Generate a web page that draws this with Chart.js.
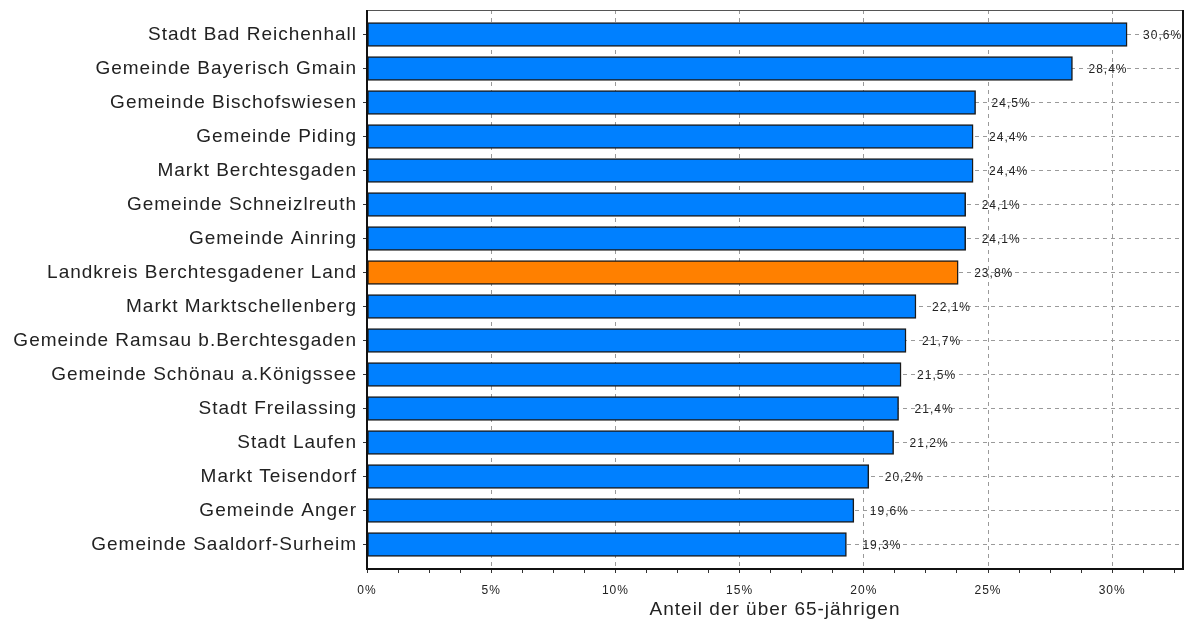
<!DOCTYPE html>
<html lang="de">
<head>
<meta charset="utf-8">
<title>Anteil der über 65-jährigen</title>
<script src="https://cdn.jsdelivr.net/npm/chart.js@4/dist/chart.umd.min.js"></script>
<style>
  html, body { margin: 0; padding: 0; background: #fff; }
  #wrap { width: 1191px; height: 622px; }
</style>
</head>
<body>
<div id="wrap"><canvas id="chart"></canvas></div>
<script>
const gemeinden = [
  "Stadt Bad Reichenhall",
  "Gemeinde Bayerisch Gmain",
  "Gemeinde Bischofswiesen",
  "Gemeinde Piding",
  "Markt Berchtesgaden",
  "Gemeinde Schneizlreuth",
  "Gemeinde Ainring",
  "Landkreis Berchtesgadener Land",
  "Markt Marktschellenberg",
  "Gemeinde Ramsau b.Berchtesgaden",
  "Gemeinde Schönau a.Königssee",
  "Stadt Freilassing",
  "Stadt Laufen",
  "Markt Teisendorf",
  "Gemeinde Anger",
  "Gemeinde Saaldorf-Surheim"
];
const anteil = [30.6, 28.4, 24.5, 24.4, 24.4, 24.1, 24.1, 23.8, 22.1, 21.7, 21.5, 21.4, 21.2, 20.2, 19.6, 19.3];
const landkreis = "Landkreis Berchtesgadener Land";
const xTicks = [0, 5, 10, 15, 20, 25, 30];

const BLUE = "#0080ff";
const ORANGE = "#ff8000";
const FONT = "'Liberation Sans', Arial, sans-serif";

// wider letter spacing for all text on the canvas
const spacing = {
  id: "spacing",
  beforeDraw(chart) { chart.ctx.letterSpacing = "1px"; }
};

// value labels right of each bar, e.g. "30,6%"
const valueLabels = {
  id: "valueLabels",
  afterDatasetsDraw(chart) {
    const ctx = chart.ctx;
    const meta = chart.getDatasetMeta(0);
    ctx.save();
    ctx.font = "12px " + FONT;
    ctx.fillStyle = "#222";
    ctx.textAlign = "left";
    ctx.textBaseline = "middle";
    meta.data.forEach((bar, i) => {
      const txt = anteil[i].toFixed(1).replace(".", ",") + "%";
      ctx.fillText(txt, bar.x + 16, bar.y + 1);
    });
    ctx.restore();
  }
};

// box around the plot area
const frame = {
  id: "frame",
  afterDraw(chart) {
    const { left, top, right, bottom } = chart.chartArea;
    const ctx = chart.ctx;
    ctx.save();
    ctx.strokeStyle = "#555";
    ctx.lineWidth = 1;
    ctx.beginPath();
    ctx.moveTo(left, top + 0.5);
    ctx.lineTo(right, top + 0.5);
    ctx.stroke();
    ctx.strokeStyle = "#111";
    ctx.lineWidth = 2;
    ctx.beginPath();
    ctx.moveTo(left, top);
    ctx.lineTo(left, bottom);
    ctx.lineTo(right, bottom);
    ctx.lineTo(right, top);
    ctx.stroke();
    ctx.restore();
  }
};

new Chart(document.getElementById("chart"), {
  type: "bar",
  data: {
    datasets: [{
      data: anteil.map((v, i) => ({ x: v, y: i })),
      backgroundColor: ctx => gemeinden[ctx.dataIndex] === landkreis ? ORANGE : BLUE,
      borderColor: "#1a1a1a",
      borderWidth: 1.5,
      borderSkipped: false,
      barThickness: 24
    }]
  },
  options: {
    indexAxis: "y",
    responsive: true,
    maintainAspectRatio: false,
    animation: false,
    events: [],
    layout: { padding: { top: 10, right: 8, left: 0, bottom: 0 } },
    plugins: {
      legend: { display: false },
      tooltip: { enabled: false }
    },
    scales: {
      x: {
        type: "linear",
        min: 0,
        max: 32.85,
        afterFit(scale) { scale.height = 53; },
        border: { display: false, dash: [4, 4] },
        grid: {
          color: c => (c.tick && c.tick.value > 0 && xTicks.includes(c.tick.value)) ? "#9a9a9a" : "rgba(0,0,0,0)",
          tickColor: "#333",
          tickLength: 4,
          lineWidth: 1
        },
        ticks: {
          stepSize: 1.25,
          includeBounds: false,
          autoSkip: false,
          maxRotation: 0,
          padding: 10,
          color: "#222",
          font: { family: FONT, size: 12 },
          callback: v => xTicks.includes(v) ? v + "%" : ""
        },
        title: {
          display: true,
          text: "Anteil der über 65-jährigen",
          color: "#222",
          font: { family: FONT, size: 19 },
          padding: { top: 0, bottom: 1 }
        }
      },
      y: {
        type: "linear",
        reverse: true,
        offset: false,
        min: -0.72,
        max: 15.72,
        afterFit(scale) {
          scale.width = 367;
          scale.paddingTop = 0;
          scale.paddingBottom = 0;
        },
        border: { display: false, dash: [4, 4] },
        grid: {
          offset: false,
          color: "#9a9a9a",
          tickColor: "#333",
          tickLength: 4,
          lineWidth: 1
        },
        ticks: {
          stepSize: 1,
          includeBounds: false,
          autoSkip: false,
          padding: 6,
          color: "#222",
          font: { family: FONT, size: 19 },
          callback: v => gemeinden[v] ?? ""
        }
      }
    }
  },
  plugins: [spacing, valueLabels, frame]
});
</script>
</body>
</html>
